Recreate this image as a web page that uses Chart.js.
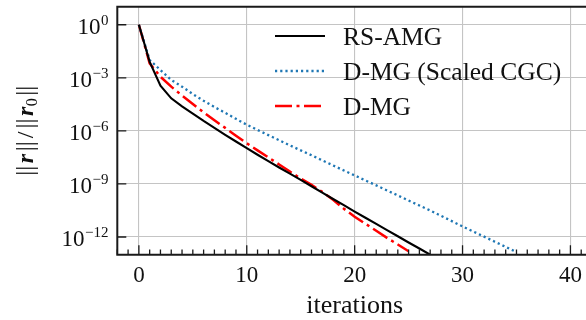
<!DOCTYPE html>
<html><head><meta charset="utf-8">
<script src="https://cdn.jsdelivr.net/npm/chart.js@4/dist/chart.umd.min.js"></script>
<style>html,body{margin:0;padding:0;overflow:hidden;background:#fff}canvas{display:block}</style>
</head><body><canvas id="c" width="600" height="320"></canvas>
<script>
const iterations = [0,1,2,3,4,5,6,7,8,9,10,11,12,13,14,15,16,17,18,19,20,21,22,23,24,25,26,27,28,29,30,31,32,33,34,35];
const rsAmg = [1, 7.94e-3, 3.55e-4, 6.92e-5, 2.40e-5, 9.33e-6, 3.63e-6, 1.48e-6, 6.03e-7, 2.51e-7,
  1.05e-7, 4.47e-8, 1.95e-8, 8.51e-9, 3.80e-9, 1.70e-9, 7.41e-10, 3.24e-10, 1.41e-10, 6.31e-11,
  2.75e-11, 1.23e-11, 5.50e-12, 2.45e-12, 1.10e-12, 4.90e-13, 2.24e-13, 1.0e-13];
const dmgScaled = [1, 1.02e-2, 2.75e-3, 7.59e-4, 3.16e-4, 1.20e-4, 5.01e-5, 2.24e-5, 1.05e-5, 4.79e-6,
  2.24e-6, 1.12e-6, 5.75e-7, 2.95e-7, 1.51e-7, 7.94e-8, 4.17e-8, 2.14e-8, 1.12e-8, 5.75e-9,
  3.02e-9, 1.58e-9, 8.32e-10, 4.27e-10, 2.24e-10, 1.15e-10, 6.03e-11, 3.16e-11, 1.58e-11, 7.94e-12,
  3.98e-12, 2.04e-12, 1.05e-12, 5.37e-13, 2.75e-13, 1.41e-13];
const dmg = [1, 6.61e-3, 1.15e-3, 3.16e-4, 1.0e-4, 3.31e-5, 1.12e-5, 3.98e-6, 1.48e-6, 5.37e-7,
  2.0e-7, 7.94e-8, 3.16e-8, 1.26e-8, 5.01e-9, 2.0e-9, 8.91e-10, 3.55e-10, 1.26e-10, 3.98e-11,
  1.41e-11, 5.62e-12, 2.24e-12, 8.91e-13, 3.80e-13, 1.58e-13];
const seriesLabels = ['RS-AMG', 'D-MG (Scaled CGC)', 'D-MG'];
const xTickValues = [0, 10, 20, 30, 40];
const xTickLabels = ['0', '10', '20', '30', '40'];
const yTickValues = [1, 1e-3, 1e-6, 1e-9, 1e-12];
const yTickExponents = ['0', '\u22123', '\u22126', '\u22129', '\u221212'];

const FONT = '"Liberation Serif", "DejaVu Serif", serif';
const toPts = arr => arr.map((v, i) => ({x: iterations[i], y: v}));

const decor = {
  id: 'decor',
  afterDraw(chart) {
    const ctx = chart.ctx, a = chart.chartArea;
    const xs = chart.scales.x, ys = chart.scales.y;
    ctx.save();
    // spines
    ctx.strokeStyle = '#1a1a1a';
    ctx.lineWidth = 2;
    ctx.beginPath();
    ctx.moveTo(a.left, a.bottom); ctx.lineTo(a.left, a.top); ctx.lineTo(a.right, a.top);
    ctx.moveTo(a.left - 1, a.bottom); ctx.lineTo(a.right, a.bottom);
    ctx.stroke();
    // x ticks (inward)
    ctx.lineWidth = 1.3;
    ctx.beginPath();
    for (let v = Math.ceil(xs.min); v <= xs.max; v++) {
      const px = xs.getPixelForValue(v);
      const len = (v % 10 === 0) ? 9.5 : 5.3;
      ctx.moveTo(px, a.bottom); ctx.lineTo(px, a.bottom - len);
    }
    // y ticks (inward)
    yTickValues.forEach(v => {
      const py = ys.getPixelForValue(v);
      ctx.moveTo(a.left, py); ctx.lineTo(a.left + 9, py);
    });
    ctx.stroke();
    // x labels
    ctx.fillStyle = '#111';
    ctx.textAlign = 'center';
    ctx.textBaseline = 'alphabetic';
    ctx.font = '23px ' + FONT;
    xTickValues.forEach((v, i) => {
      ctx.fillText(xTickLabels[i], xs.getPixelForValue(v), 281.5);
    });
    // x title
    ctx.font = '26px ' + FONT;
    ctx.fillText('iterations', (a.left + a.right) / 2, 312.5);
    // y labels 10^e
    ctx.textAlign = 'right';
    yTickValues.forEach((v, i) => {
      const py = ys.getPixelForValue(v);
      ctx.font = '15px ' + FONT;
      const ew = ctx.measureText(yTickExponents[i]).width;
      ctx.fillText(yTickExponents[i], 108.5, py);
      ctx.font = '23px ' + FONT;
      ctx.fillText('10', 108.5 - ew - 0.5, py + 8.8);
    });
    // y title: ||r|| / ||r0||
    const bar = '25px ' + FONT, rf = 'italic bold 24px ' + FONT;
    const segs = [
      ['||', bar, 0, 1.5, 1.5],
      ['r', rf, 0, 1, 1],
      ['||', bar, 0, 1.5, 1.5],
      ['/', '24px ' + FONT, 0, 1.5, 1.5],
      ['||', bar, 0, 1.5, 1.5],
      ['r', rf, 0, 1, 0.5],
      ['0', '16px ' + FONT, 4, 0, 1],
      ['||', bar, 0, 1.5, 1.5]
    ];
    let total = 0;
    segs.forEach(s => { ctx.font = s[1]; s.push(ctx.measureText(s[0]).width); total += s[3] + s[4] + s[5]; });
    ctx.translate(33, (a.top + a.bottom) / 2);
    ctx.rotate(-Math.PI / 2);
    ctx.textAlign = 'left';
    let cx = -total / 2;
    segs.forEach(s => { ctx.font = s[1]; cx += s[3]; ctx.fillText(s[0], cx, s[2]); cx += s[5] + s[4]; });
    ctx.setTransform(1, 0, 0, 1, 0, 0);
    // legend
    const rows = [36, 71, 106];
    chart.data.datasets.forEach((ds, i) => {
      const y = rows[i];
      ctx.strokeStyle = ds.borderColor;
      ctx.lineWidth = ds.borderWidth;
      ctx.setLineDash(ds.borderDash || []);
      ctx.lineCap = 'butt';
      ctx.beginPath(); ctx.moveTo(275, y); ctx.lineTo(325, y); ctx.stroke();
      ctx.setLineDash([]);
      ctx.fillStyle = '#111';
      ctx.font = '25.5px ' + FONT;
      ctx.textAlign = 'left';
      ctx.textBaseline = 'alphabetic';
      ctx.fillText(ds.label, 343, y + 8.5);
    });
    ctx.restore();
  }
};

new Chart(document.getElementById('c'), {
  type: 'line',
  data: {
    datasets: [
      {label: seriesLabels[0], data: toPts(rsAmg), borderColor: '#000000', borderWidth: 2.1, borderDash: [], borderCapStyle: 'butt'},
      {label: seriesLabels[1], data: toPts(dmgScaled), borderColor: '#1f77b4', borderWidth: 2.3, borderDash: [2.2, 3.0], borderCapStyle: 'butt'},
      {label: seriesLabels[2], data: toPts(dmg), borderColor: '#ff0000', borderWidth: 2.5, borderDash: [17, 4.5, 3, 4.5], borderCapStyle: 'butt'}
    ]
  },
  options: {
    responsive: false,
    animation: false,
    devicePixelRatio: 1,
    layout: {padding: {left: 117.3, top: 6.7, right: 8, bottom: 65.3}},
    elements: {point: {radius: 0}, line: {tension: 0, fill: false}},
    plugins: {legend: {display: false}, tooltip: {enabled: false}},
    scales: {
      x: {
        type: 'linear', min: -2, max: 42,
        afterBuildTicks: s => { s.ticks = xTickValues.map(v => ({value: v})); },
        ticks: {display: false},
        grid: {color: '#c4c4c4', lineWidth: 1.1, drawTicks: false},
        border: {display: false}
      },
      y: {
        type: 'logarithmic', min: 1e-13, max: 10.47,
        afterBuildTicks: s => { s.ticks = yTickValues.map(v => ({value: v})); },
        ticks: {display: false},
        grid: {color: '#c4c4c4', lineWidth: 1.1, drawTicks: false},
        border: {display: false}
      }
    }
  },
  plugins: [decor]
});
</script>
</body></html>
